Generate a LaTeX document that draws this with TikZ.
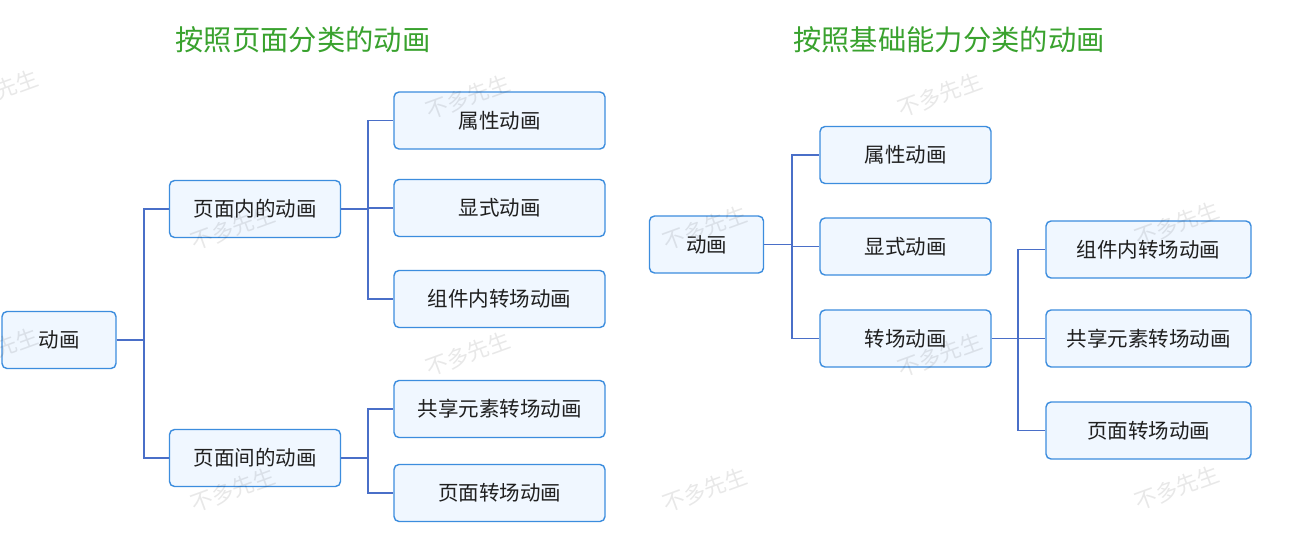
\documentclass[tikz,border=0pt]{standalone}
\usepackage{fontspec}
\setmainfont{Noto Sans CJK SC}
\definecolor{boxline}{HTML}{3C8DDE}
\definecolor{boxfill}{HTML}{F0F7FF}
\definecolor{linkblue}{HTML}{4A6FC8}
\definecolor{titlegreen}{HTML}{39A22E}

\begin{document}
\begin{tikzpicture}[
    x=1pt, y=-1pt,
    box/.style={draw=boxline, fill=boxfill, line width=1.4pt, rounded corners=5pt,
                minimum height=57pt, inner sep=0pt, text=black!88,
                font=\fontsize{20.5}{24}\selectfont},
    rootbox/.style={box, minimum width=114pt},
    mid/.style={box, minimum width=171pt},
    leaf/.style={box, minimum width=211pt},
    leafr/.style={box, minimum width=205pt},
    link/.style={draw=linkblue, line width=1.6pt},
    title/.style={text=titlegreen, font=\fontsize{28.3}{32}\selectfont},
    wmark/.style={text=black, text opacity=0.09, rotate=20,
                  font=\fontsize{22}{24}\selectfont}
]
    \fill[white] (0,0) rectangle (1300,556);
    \useasboundingbox (0,0) rectangle (1300,556);

    \node[title] (ttlpage)  at (303,40) {按照页面分类的动画};
    \node[title] (ttlskill) at (949,40) {按照基础能力分类的动画};

    % by page
    \node[rootbox] (anim)     at (59,340)      {动画};
    \node[mid]     (inpage)   at (255,209)     {页面内的动画};
    \node[mid]     (between)  at (255,458)     {页面间的动画};
    \node[leaf]    (attr)     at (499.5,120.5) {属性动画};
    \node[leaf]    (explicit) at (499.5,208)   {显式动画};
    \node[leaf]    (comp)     at (499.5,299)   {组件内转场动画};
    \node[leaf]    (shared)   at (499.5,409)   {共享元素转场动画};
    \node[leaf]    (pagetr)   at (499.5,493)   {页面转场动画};

    \foreach \kid in {inpage,between}
        \draw[link] (anim.east) -- ++(27,0) |- (\kid.west);
    \foreach \kid in {attr,explicit,comp}
        \draw[link] (inpage.east) -- ++(27,0) |- (\kid.west);
    \foreach \kid in {shared,pagetr}
        \draw[link] (between.east) -- ++(27,0) |- (\kid.west);

    % by ability
    \node[rootbox] (animb)     at (706.5,244.5)  {动画};
    \node[mid]     (attrb)     at (905.5,155)    {属性动画};
    \node[mid]     (explicitb) at (905.5,246.5)  {显式动画};
    \node[mid]     (trans)     at (905.5,338.5)  {转场动画};
    \node[leafr]   (compb)     at (1148.5,249.5) {组件内转场动画};
    \node[leafr]   (sharedb)   at (1148.5,338.5) {共享元素转场动画};
    \node[leafr]   (pagetrb)   at (1148.5,430.5) {页面转场动画};

    \foreach \kid in {attrb,explicitb,trans}
        \draw[link] (animb.east) -- ++(27.5,0) |- (\kid.west);
    \foreach \kid in {compb,sharedb,pagetrb}
        \draw[link] (trans.east) -- ++(26.5,0) |- (\kid.west);

    % watermark
    \foreach \wx/\wy [count=\i] in {-4/92, 468/97, 940/95, 233/228, 705/228, 1177/224,
                                    -4/350, 468/354, 940/355, 233/490, 705/490, 1177/488}
        \node[wmark] (wm\i) at (\wx,\wy) {不多先生};
\end{tikzpicture}
\end{document}
